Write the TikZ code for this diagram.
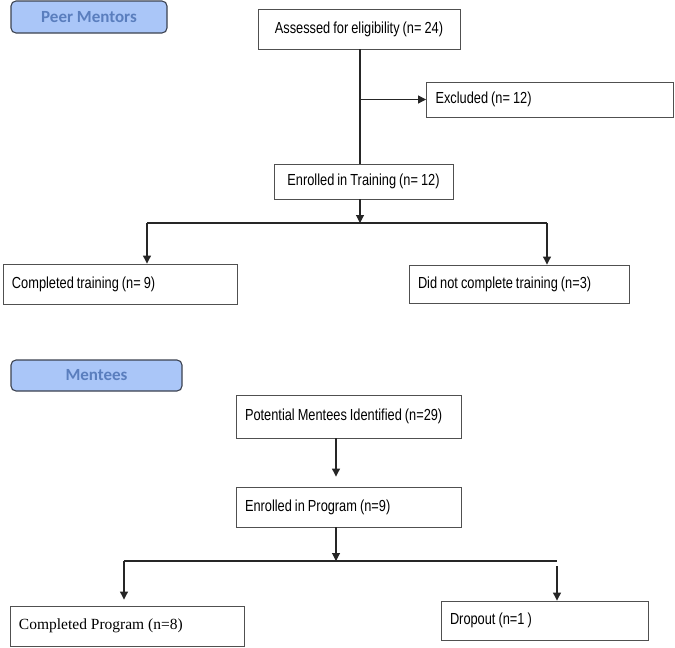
\documentclass[tikz,border=0pt]{standalone}
\usepackage{fontspec}
\setmainfont{Liberation Sans}[FakeStretch=0.8, WordSpace=0.85]
\newfontfamily\timesfont{Liberation Serif}
\newfontfamily\calfont{Carlito}
\usepackage{tikz}
\usetikzlibrary{arrows.meta}

\definecolor{headfill}{HTML}{AAC6F8}
\definecolor{headtext}{HTML}{5A7EBE}
\definecolor{headline}{HTML}{3C4250}
\definecolor{boxline}{HTML}{505050}

\tikzset{
  stage/.style={draw=boxline, line width=0.9pt, inner sep=0pt, align=center,
    font=\fontsize{16}{19}\selectfont},
  lstage/.style={stage, inner xsep=9pt, align=flush left},
  header/.style={draw=headline, fill=headfill, rounded corners=5pt, line width=1.1pt,
    text=headtext, font=\calfont\bfseries\fontsize{17}{20}\selectfont},
  link/.style={draw=black!85, line width=1.1pt},
  arr/.style={link, -{Triangle[length=8pt,width=8pt]}},
}

\begin{document}
\begin{tikzpicture}[x=1pt, y=-1pt]
    \useasboundingbox (0,0) rectangle (675,648);

    % Peer mentors
    \node[header, minimum width=156pt, minimum height=32pt] (peer) at (89,17) {Peer Mentors};
    \node[stage, minimum width=202pt, minimum height=40pt] (assess) at (359,29) {Assessed for eligibility (n= 24)};
    \node[lstage, text width=229pt, minimum height=35pt] (excl) at (550,99.5) {Excluded (n= 12)};
    \node[stage, minimum width=179pt, minimum height=35pt] (enrolT) at (363.5,181.5) {Enrolled in Training (n= 12)};
    \node[lstage, text width=216pt, minimum height=40pt] (compT) at (120,284) {Completed training (n= 9)};
    \node[lstage, text width=202pt, minimum height=38pt] (notT) at (519,284) {Did not complete training (n=3)};

    % Split points
    \coordinate (splitT) at (360,223);
    \coordinate (brTl) at (147,223);
    \coordinate (brTr) at (547,223);

    % Peer mentor connectors
    \draw[link] (assess.south -| splitT) -- (enrolT.north -| splitT);
    \draw[arr] (excl.west -| splitT) -- (excl.west);
    \draw[arr] (enrolT.south -| splitT) -- (splitT);
    \draw[link] (brTl) -- (brTr);
    \draw[arr] (brTl) -- (brTl |- compT.north);
    \draw[arr] (brTr) -- (brTr |- notT.north);

    % Mentees
    \node[header, minimum width=171pt, minimum height=31pt] (mentees) at (96.5,375.5) {Mentees};
    \node[lstage, text width=207pt, minimum height=43pt] (poten) at (348.5,416.5) {Potential Mentees Identified (n=29)};
    \node[lstage, text width=207pt, minimum height=40pt] (enrolP) at (348.5,507) {Enrolled in Program (n=9)};
    \node[lstage, text width=216pt, minimum height=40pt, font=\timesfont\fontsize{15.5}{18}\selectfont] (compP) at (127,626) {Completed Program (n=8)};
    \node[lstage, text width=189pt, minimum height=39pt] (drop) at (544.5,620.5) {Dropout (n=1 )};

    % Split points
    \coordinate (splitP) at (336,561);
    \coordinate (brPl) at (124,561);
    \coordinate (brPr) at (557,561);

    % Mentee connectors
    \draw[arr, shorten >=10pt] (poten.south -| splitP) -- (enrolP.north -| splitP);
    \draw[arr] (enrolP.south -| splitP) -- (splitP);
    \draw[link] (brPl) -- (brPr);
    \draw[arr, shorten >=6pt] (brPl) -- (brPl |- compP.north);
    \draw[arr, shorten <=5pt] (brPr) -- (brPr |- drop.north);
\end{tikzpicture}
\end{document}
